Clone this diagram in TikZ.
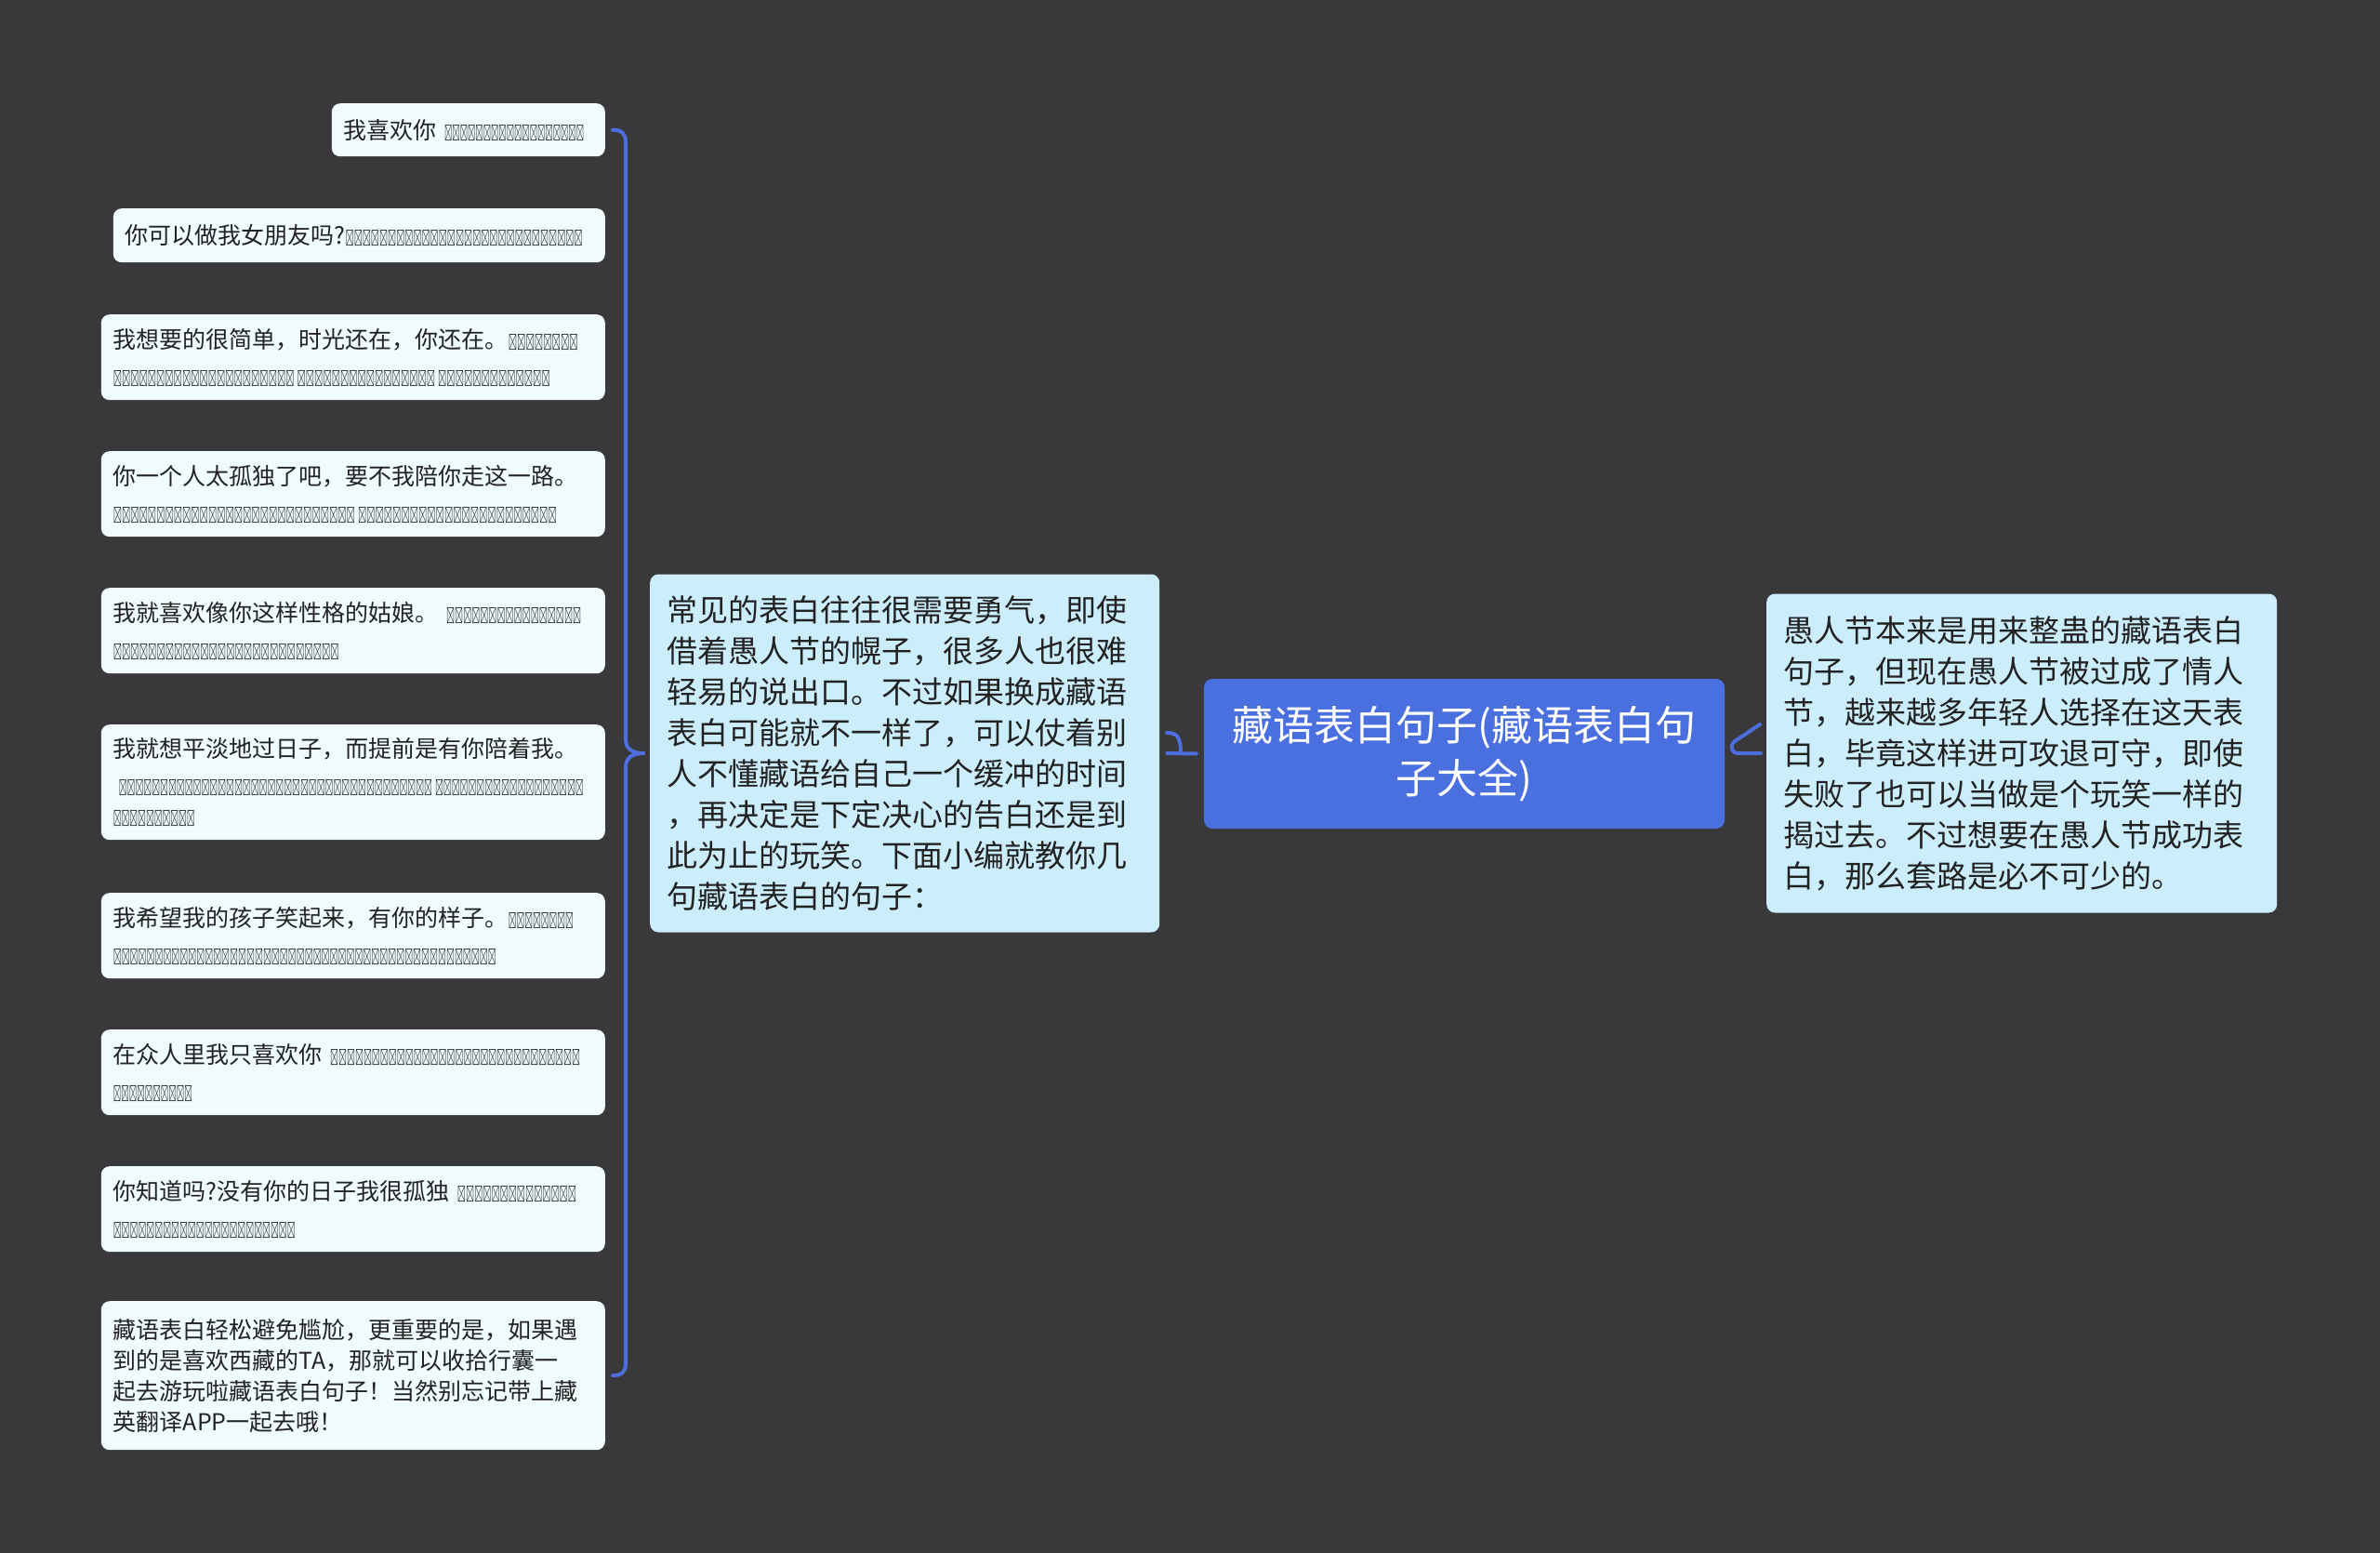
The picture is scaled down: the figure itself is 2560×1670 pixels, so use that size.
\documentclass[tikz,border=0pt]{standalone}
\usepackage{fontspec}
\usepackage{graphicx}
\setmainfont{Noto Sans CJK SC}
\newfontfamily\tib{Noto Sans CJK SC}
\newcommand\tibt[2]{\resizebox{#1pt}{15pt}{\tib #2}}
\XeTeXlinebreaklocale "zh"
\definecolor{bg}{RGB}{57,56,58}
\definecolor{leaffill}{RGB}{239,251,253}
\definecolor{subfill}{RGB}{204,237,252}
\definecolor{rootfill}{RGB}{74,111,222}
\definecolor{connblue}{RGB}{78,110,222}
\definecolor{txt}{RGB}{34,34,34}
\tikzset{
  leaf/.style={fill=leaffill, rounded corners=9pt, inner xsep=13pt, inner ysep=0pt,
    align=left, font=\fontsize{25}{33}\selectfont, text=txt, anchor=north east,
    text width=516pt},
  sub/.style={fill=subfill, rounded corners=9pt, inner xsep=18pt, inner ysep=0pt,
    align=left, font=\fontsize{33}{44}\selectfont, text=txt},
  rootbox/.style={fill=rootfill, rounded corners=9pt, inner xsep=20pt, inner ysep=0pt,
    align=center, font=\fontsize{44}{57}\selectfont, text=white, text width=520pt,
    minimum height=161pt},
  conn/.style={draw=connblue, line width=4pt, line cap=round}
}
\begin{document}
\begin{tikzpicture}[x=1pt,y=-1pt]
\useasboundingbox[fill=bg] (0,0) rectangle (2560,1670);

% root
\node[rootbox] (root) at (1575,810.5) {藏语表白句子(藏语表白句\\子大全)};

% middle (left) subtopic
\node[sub, anchor=west, text width=512pt, minimum height=385pt] (mid) at (699,810)
{常见的表白往往很需要勇气，即使\\借着愚人节的幌子，很多人也很难\\轻易的说出口。不过如果换成藏语\\表白可能就不一样了，可以仗着别\\人不懂藏语给自己一个缓冲的时间\\，再决定是下定决心的告白还是到\\此为止的玩笑。下面小编就教你几\\句藏语表白的句子：};

% right subtopic
\node[sub, anchor=west, text width=513pt, minimum height=343pt] (right) at (1900,810)
{愚人节本来是用来整蛊的藏语表白\\句子，但现在愚人节被过成了情人\\节，越来越多年轻人选择在这天表\\白，毕竟这样进可攻退可守，即使\\失败了也可以当做是个玩笑一样的\\揭过去。不过想要在愚人节成功表\\白，那么套路是必不可少的。};

% leaves
\node[leaf, text width=268pt, minimum height=57pt] (n1) at (651,111)
{我喜欢你 \tibt{150}{ང་རང་ལ་དགའ་པོ་ཡོད་}};
\node[leaf, text width=503pt, minimum height=58pt] (n2) at (651,224)
{你可以做我女朋友吗?\tibt{255}{ངའི་དགའ་རོགས་བྱས་ན་འགྲིག་གམ་}};
\node[leaf, minimum height=92pt] (n3) at (651,338)
{我想要的很简单，时光还在，你还在。\tibt{75}{ང་དགོས་པ}\\[6pt]\tibt{470}{་འདི་སྟབས་བདེ་པོ་རེད་ དུས་ཚོད་ནི་འདུག་ ཁྱེད་ཡང་འདུག་}};
\node[leaf, minimum height=92pt] (n4) at (651,485)
{你一个人太孤独了吧，要不我陪你走这一路。\\[6pt]\tibt{477}{ཁྱེད་གཅིག་པོ་ཁེར་རྐྱང་མ་རེད་ ངེད་མི་ཚེ་མཉམ་དུ་བསྐྱལ་}};
\node[leaf, minimum height=92pt] (n5) at (651,632)
{我就喜欢像你这样性格的姑娘。 \tibt{145}{རང་ནང་བཞིན་གཤིས་}\\[6pt]\tibt{243}{ཀའི་བུ་མོར་ང་རང་དད་པོ་ཡོད་}};
\node[leaf, minimum height=124pt] (n6) at (651,779)
{我就想平淡地过日子，而提前是有你陪着我。\\[6pt]\hspace*{6pt}\tibt{500}{ངར་འཚོ་བ་སྟབས་བདེ་ཞིག་བསྐྱང་ན་འགྲིག་པ་ དེ་ཡང་རང་ངེས་པར་དུ}\\\tibt{88}{་ཡོད་དགོས་}};
\node[leaf, minimum height=92pt] (n7) at (651,960)
{我希望我的孩子笑起来，有你的样子。\tibt{70}{ངའི་རེ་བ}\\[6pt]\tibt{412}{ར་ངའི་ཕྲུ་གུ་དགོད་དུས་རང་གི་བཟོ་བལྟ་ཡོད་ན་བསམ་}};
\node[leaf, minimum height=92pt] (n8) at (651,1107)
{在众人里我只喜欢你 \tibt{269}{མི་ཚོགས་མང་པོའི་ནང་ནས་ང་རང་གཅི}\\[6pt]\tibt{85}{ག་པོར་དགའ་}};
\node[leaf, minimum height=92pt] (n9) at (651,1254)
{你知道吗?没有你的日子我很孤独 \tibt{128}{ཁྱེད་མེད་ན་ནི་}\\[6pt]\tibt{196}{ང་རང་ཁེར་རྐྱང་གཅིག་པོ་}};
\node[leaf, minimum height=160pt] (n10) at (651,1399)
{藏语表白轻松避免尴尬，更重要的是，如果遇\\到的是喜欢西藏的TA，那就可以收拾行囊一\\起去游玩啦藏语表白句子！当然别忘记带上藏\\英翻译APP一起去哦！};

% brace connector to leaves
\draw[conn] ([xshift=8pt]n1.east) .. controls (669,139.5) and (673,144) .. (673,153)
  -- (673,795) .. controls (673,805) and (680,810) .. ([xshift=-7pt]mid.west);
\draw[conn] ([xshift=-7pt]mid.west) .. controls (680,810) and (673,815) .. (673,825)
  -- (673,1466) .. controls (673,1475) and (669,1479) .. ([xshift=8pt]n10.east);

% root to middle
\draw[conn] ([xshift=-8pt]root.west) -- ([xshift=8pt]mid.east)
  (1270,810) .. controls (1270,792) and (1266,788) .. (1255,788);
% root to right
\draw[conn] ([xshift=-6pt]right.west) -- (1870,810)
  .. controls (1862,810) and (1860,802) .. (1866,797) -- (1893,779);
\end{tikzpicture}
\end{document}
